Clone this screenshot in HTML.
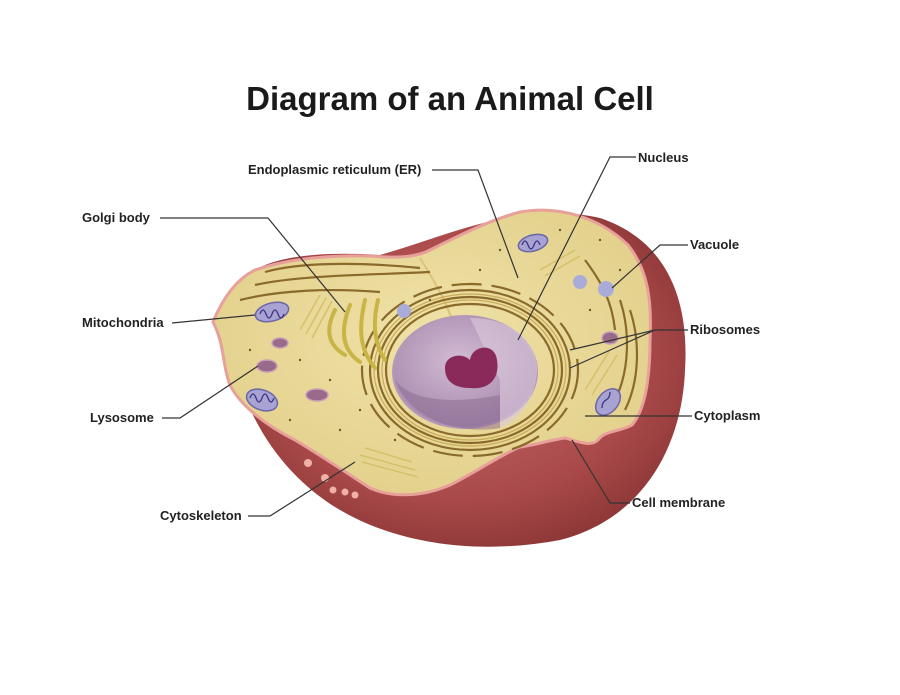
<!DOCTYPE html>
<html><head><meta charset="utf-8"><style>
html,body{margin:0;padding:0;background:#fff;}
svg{display:block}
text{font-family:"Liberation Sans",Arial,sans-serif;font-weight:bold;fill:#222;}
</style></head><body>
<svg width="900" height="695" viewBox="0 0 900 695" xmlns="http://www.w3.org/2000/svg">
<defs>
<radialGradient id="red" cx="0.5" cy="0.45" r="0.6">
<stop offset="0" stop-color="#c86a6a"/><stop offset="0.7" stop-color="#a84848"/><stop offset="1" stop-color="#8a3535"/>
</radialGradient>
<radialGradient id="yel" cx="0.5" cy="0.45" r="0.6">
<stop offset="0" stop-color="#f0e2a8"/><stop offset="1" stop-color="#e2cf8a"/>
</radialGradient>
<radialGradient id="nuc" cx="0.45" cy="0.4" r="0.65">
<stop offset="0" stop-color="#d2bcd4"/><stop offset="1" stop-color="#a282a8"/>
</radialGradient>
</defs>
<text x="450" y="110" text-anchor="middle" font-size="33" style="fill:#1a1a1a">Diagram of an Animal Cell</text>

<!-- red body -->
<path d="M230,300 C240,260 300,250 380,255 C450,235 520,200 600,218 C660,238 690,290 685,370 C682,450 640,520 560,540 C480,555 400,545 340,510 C280,475 225,400 230,300Z" fill="url(#red)"/>
<!-- yellow cytoplasm -->
<path d="M213,322 C222,300 235,280 255,270 C290,258 330,255 370,256 C395,258 415,258 430,250 C460,235 490,220 520,212 C560,205 600,218 628,245 C648,270 652,300 650,340 C650,380 645,410 632,425 C620,432 605,430 598,440 C590,448 575,440 565,438 C550,440 535,445 520,447 C500,455 480,470 450,485 C420,498 390,497 370,488 C350,475 320,455 295,440 C265,425 240,405 230,385 C222,365 225,345 213,322Z" fill="url(#yel)" stroke="#e8a09a" stroke-width="3"/>
<path d="M420,258 C440,290 450,310 455,330" stroke="#d9c47a" stroke-width="2" fill="none"/>
<g fill="none" stroke="#8a6a2a" stroke-width="2.2">
<ellipse cx="470" cy="370" rx="100" ry="80"/>
<ellipse cx="470" cy="370" rx="92" ry="73"/>
<ellipse cx="470" cy="370" rx="84" ry="66"/>
<ellipse cx="470" cy="370" rx="108" ry="86" stroke-dasharray="30 10"/>
</g>
<g fill="none" stroke="#c9aa55" stroke-width="1.2">
<ellipse cx="470" cy="370" rx="96" ry="76"/>
<ellipse cx="470" cy="370" rx="88" ry="70"/>
</g>
<ellipse cx="465" cy="372" rx="72" ry="56" fill="url(#nuc)" stroke="#b59ab8" stroke-width="2"/>
<path d="M470,318 L500,380 L500,428 C520,420 535,400 537,370 C537,340 510,318 470,318Z" fill="#dccbde" opacity="0.6"/>
<path d="M395,380 C410,400 450,405 500,395 L500,428 C460,435 410,420 395,380Z" fill="#8a6a90" opacity="0.5"/>
<path d="M445,368 C445,355 462,352 470,360 C472,345 495,342 497,360 C500,378 490,390 470,388 C455,388 445,382 445,368Z" fill="#8a2a5a"/>
<g fill="none" stroke="#8a6a2a" stroke-width="2.2">
<path d="M265,272 C300,262 360,262 420,268"/>
<path d="M255,285 C300,275 370,275 430,272"/>
<path d="M240,300 C280,290 330,288 380,292"/>
<path d="M585,260 C600,280 612,300 615,330"/>
<path d="M620,300 C630,330 630,370 615,400"/>
<path d="M630,310 C640,340 640,380 625,410"/>
</g>
<g fill="none" stroke="#c9b545" stroke-width="4" stroke-linecap="round">
<path d="M335,310 C325,330 328,345 345,355"/>
<path d="M350,305 C340,330 342,350 360,362"/>
<path d="M365,300 C358,330 360,350 375,368"/>
<path d="M378,300 C372,325 375,345 385,360"/>
</g>
<g fill="none" stroke="#d4c26a" stroke-width="1.5">
<path d="M300,330 L320,295 M306,334 L326,298 M312,338 L332,301"/>
<path d="M360,455 L415,470 M362,462 L418,477 M365,448 L412,462"/>
<path d="M540,270 L575,250 M545,276 L580,256"/>
<path d="M585,390 L610,350 M592,395 L617,355"/>
</g>
<g fill="#a9a3d4" stroke="#6a66a8" stroke-width="1.5">
<ellipse cx="272" cy="312" rx="17" ry="9" transform="rotate(-15 272 312)"/>
<ellipse cx="262" cy="400" rx="16" ry="10" transform="rotate(20 262 400)"/>
<ellipse cx="533" cy="243" rx="15" ry="8" transform="rotate(-15 533 243)"/>
<ellipse cx="608" cy="402" rx="10" ry="15" transform="rotate(40 608 402)"/>
</g>
<g fill="none" stroke="#3a3580" stroke-width="1.3">
<path d="M260,314 q3,-8 6,0 q3,8 6,0 q3,-8 6,0 q3,8 6,0"/>
<path d="M250,398 q3,-8 6,0 q3,8 6,0 q3,-8 6,0 q3,8 6,0"/>
<path d="M522,245 q3,-8 6,0 q3,8 6,0 q3,-8 6,0"/>
<path d="M602,408 q0,-6 4,-8 q4,-2 4,-8"/>
</g>
<g fill="#9a6a8a" stroke="#c8a0b8" stroke-width="1.5">
<ellipse cx="280" cy="343" rx="8" ry="5"/>
<ellipse cx="267" cy="366" rx="10" ry="6"/>
<ellipse cx="317" cy="395" rx="11" ry="6"/>
<ellipse cx="610" cy="338" rx="8" ry="6"/>
</g>
<g fill="#a9acd8">
<circle cx="404" cy="311" r="7"/>
<circle cx="580" cy="282" r="7"/>
<circle cx="606" cy="289" r="8"/>
</g>
<g fill="#f0b0a8">
<circle cx="308" cy="463" r="4"/><circle cx="325" cy="478" r="4"/><circle cx="333" cy="490" r="3.5"/><circle cx="345" cy="492" r="3.5"/><circle cx="355" cy="495" r="3.5"/>
</g>
<g fill="#6a5a2a">
<circle cx="300" cy="360" r="1.2"/><circle cx="330" cy="380" r="1.2"/><circle cx="360" cy="410" r="1.2"/><circle cx="395" cy="440" r="1.2"/><circle cx="290" cy="420" r="1.2"/><circle cx="340" cy="430" r="1.2"/><circle cx="560" cy="230" r="1.2"/><circle cx="600" cy="240" r="1.2"/><circle cx="620" cy="270" r="1.2"/><circle cx="480" cy="270" r="1.2"/><circle cx="500" cy="250" r="1.2"/><circle cx="590" cy="310" r="1.2"/><circle cx="430" cy="300" r="1.2"/><circle cx="250" cy="350" r="1.2"/>
</g>

<g fill="none" stroke="#333" stroke-width="1.2">
<path d="M432,170 L478,170 L518,278"/>
<path d="M636,157 L610,157 L518,340"/>
<path d="M160,218 L268,218 L345,312"/>
<path d="M688,245 L660,245 L612,288"/>
<path d="M172,323 L255,315"/>
<path d="M688,330 L655,330 L570,350 M655,330 L570,368"/>
<path d="M162,418 L180,418 L258,366"/>
<path d="M692,416 L585,416"/>
<path d="M248,516 L270,516 L355,462"/>
<path d="M630,503 L610,503 L572,440"/>
</g>
<g font-size="13">
<text x="248" y="174">Endoplasmic reticulum (ER)</text>
<text x="638" y="162">Nucleus</text>
<text x="82" y="222">Golgi body</text>
<text x="690" y="249">Vacuole</text>
<text x="82" y="327">Mitochondria</text>
<text x="690" y="334">Ribosomes</text>
<text x="90" y="422">Lysosome</text>
<text x="694" y="420">Cytoplasm</text>
<text x="160" y="520">Cytoskeleton</text>
<text x="632" y="507">Cell membrane</text>
</g>
</svg>
</body></html>
